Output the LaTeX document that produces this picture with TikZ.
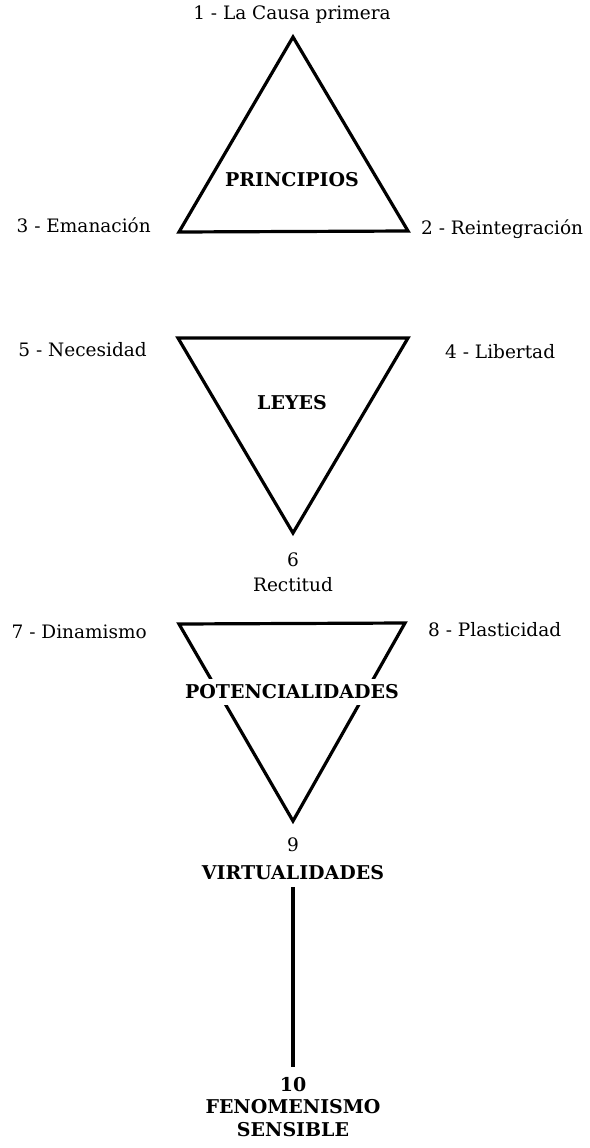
\documentclass[tikz,border=0pt]{standalone}
\usepackage{fontspec}
\setmainfont{DejaVu Serif}
\begin{document}
\begin{tikzpicture}[x=1pt,y=-1pt,
  tri/.style={line width=3.2pt,line join=miter},
  lab/.style={font=\fontsize{18.5}{21}\selectfont,inner sep=1pt},
  big/.style={font=\fontsize{19}{22}\selectfont\bfseries,inner sep=1pt},
  stem/.style={line width=3.2pt}]
\useasboundingbox (0,0) rectangle (589,1148);
% triangle 1
\coordinate (a1) at (293,37);
\coordinate (a2) at (408,231);
\coordinate (a3) at (179,232);
\draw[tri] (a1) -- (a2) -- (a3) -- cycle;
\node[lab] (t1) at (292,15) {1 - La Causa primera};
\node[big] (p) at (292,180) {PRINCIPIOS};
\node[lab,anchor=east] (t3) at (152,225) {3 - Emanación};
\node[lab,anchor=west] (t2) at (420,229) {2 - Reintegración};
% triangle 2
\coordinate (b5) at (178,338);
\coordinate (b4) at (408,338);
\coordinate (b6) at (293,533);
\draw[tri] (b5) -- (b4) -- (b6) -- cycle;
\node[lab,anchor=east] (t5) at (148,350) {5 - Necesidad};
\node[lab,anchor=west] (t4) at (444,352) {4 - Libertad};
\node[big] (l) at (292,403) {LEYES};
\node[lab] (t6) at (293,560) {6};
\node[lab] (r) at (293,585) {Rectitud};
% triangle 3
\coordinate (c7) at (179,624);
\coordinate (c8) at (405,623);
\coordinate (c9) at (293,821);
\draw[tri] (c7) -- (c8) -- (c9) -- cycle;
\node[lab,anchor=east] (t7) at (148,632) {7 - Dinamismo};
\node[lab,anchor=west] (t8) at (427,630) {8 - Plasticidad};
\node[big,fill=white,inner xsep=2pt,inner ysep=6pt] (pot) at (292,692) {POTENCIALIDADES};
\node[lab] (t9) at (293,845) {9};
\node[big] (v) at (293,873) {VIRTUALIDADES};
% stem
\node[big] (t10) at (293,1085) {10};
\node[big] (f) at (293,1107) {FENOMENISMO};
\node[big] (s) at (293,1130) {SENSIBLE};
\draw[stem] (v.south) ++(0,6) coordinate (vs) -- (vs |- 0,1067) coordinate (fe);
\end{tikzpicture}
\end{document}
